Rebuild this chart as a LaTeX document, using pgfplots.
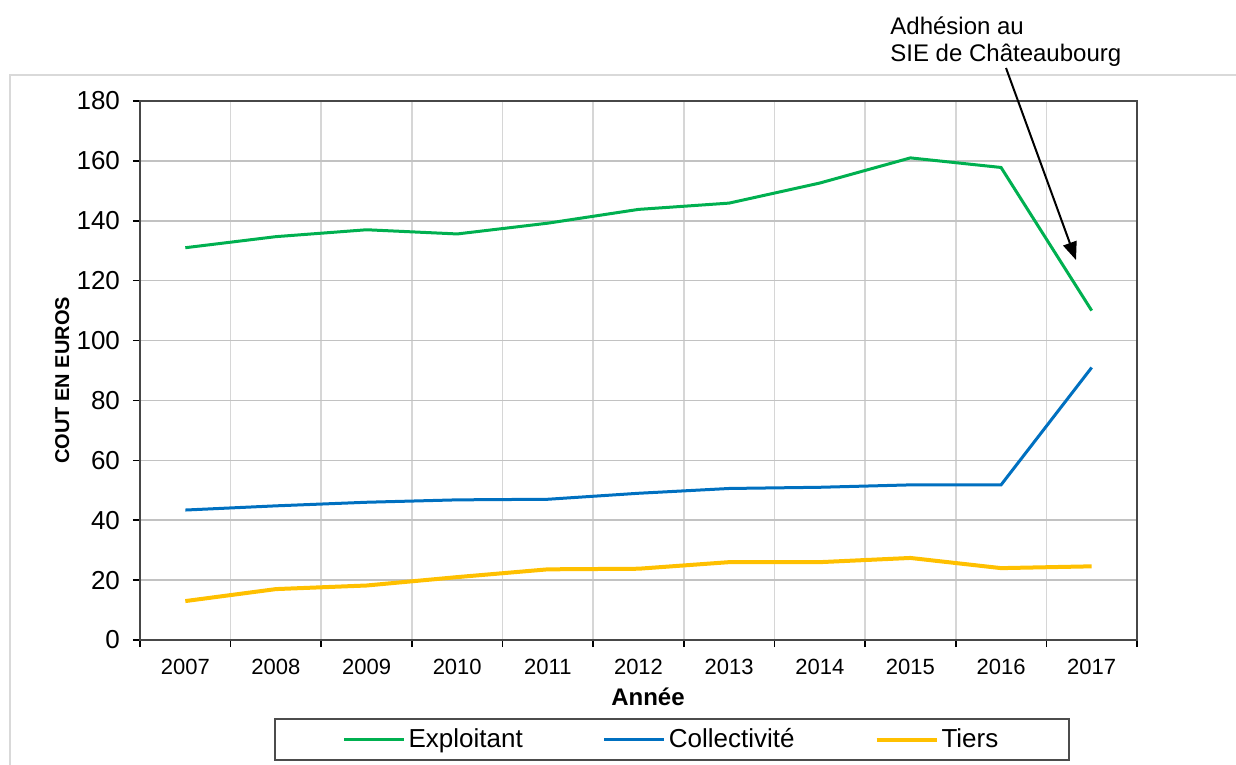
\documentclass[border=0pt]{standalone}
\usepackage{fontspec}
\setmainfont{Liberation Sans}
\usepackage{pgfplots}
\pgfplotsset{compat=1.18}
\usetikzlibrary{arrows.meta}
\definecolor{cgreen}{HTML}{00B050}
\definecolor{cblue}{HTML}{0070C0}
\definecolor{cyellow}{HTML}{FFC000}
\begin{document}
\begin{tikzpicture}
\path[use as bounding box] (0,0) rectangle (618pt,382.5pt);
\draw[black!15, line width=1pt] (5pt,0pt) -- (5pt,345pt) -- (618pt,345pt);
\begin{axis}[
  at={(70pt,62.5pt)}, anchor=south west,
  width=498.5pt, height=269.5pt, scale only axis,
  xmin=-0.5, xmax=10.5, ymin=0, ymax=180,
  xtick={0,...,10},
  xticklabels={2007,2008,2009,2010,2011,2012,2013,2014,2015,2016,2017},
  major x tick style={draw=none},
  minor xtick={-0.5,0.5,...,10.5},
  minor x tick style={black, line width=0.8pt},
  minor tick length=3.5pt,
  ytick={0,20,...,180},
  major tick length=3.5pt,
  tick align=outside,
  tick pos=left,
  y tick style={black, line width=0.8pt},
  ymajorgrids, xminorgrids,
  major y grid style={black!24, line width=0.8pt},
  minor x grid style={black!16, line width=0.8pt},
  axis line style={black!72, line width=1.3pt},
  /pgf/number format/assume math mode=true,
  /pgf/number format/1000 sep={},
  yticklabel style={font=\fontsize{13}{15}\selectfont, xshift=-3pt},
  xticklabel style={font=\fontsize{11}{13}\selectfont, yshift=-2.5pt},
  xlabel={Année},
  ylabel={COUT EN EUROS},
  every axis x label/.style={at={(axis description cs:0.5095,-0.1058)}, anchor=center, font=\bfseries\fontsize{12}{14}\selectfont},
  every axis y label/.style={at={(axis description cs:-0.078,0.482)}, anchor=center, rotate=90, font=\bfseries\fontsize{10}{12}\selectfont},
  legend columns=3,
  legend image code/.code={\draw[#1] (0pt,0pt) -- (30pt,0pt);},
  legend style={at={(axis description cs:0.5336,-0.1846)}, anchor=center,
    draw=black!70, line width=1pt, inner xsep=34pt, inner ysep=3pt,
    font=\fontsize{13}{15}\selectfont,
    nodes={inner sep=1.5pt},
    /tikz/every even column/.append style={column sep=38.5pt}},
]
\addplot[cgreen, line width=1.5pt] coordinates {(0,131) (1,134.7) (2,137) (3,135.6) (4,139.2) (5,143.8) (6,145.9) (7,152.6) (8,161) (9,157.8) (10,110)};
\addlegendentry{Exploitant}
\addplot[cblue, line width=1.5pt] coordinates {(0,43.4) (1,44.8) (2,46) (3,46.8) (4,47) (5,49) (6,50.6) (7,51) (8,51.8) (9,51.8) (10,91)};
\addlegendentry{Collectivité}
\addplot[cyellow, line width=2pt] coordinates {(0,13) (1,17) (2,18.2) (3,21) (4,23.6) (5,23.8) (6,26) (7,26) (8,27.4) (9,24) (10,24.6)};
\addlegendentry{Tiers}
\end{axis}
\node[anchor=base west, inner sep=0pt, font=\fontsize{12}{14}\selectfont] at (445pt,365pt) {Adhésion au};
\node[anchor=base west, inner sep=0pt, font=\fontsize{12}{14}\selectfont] at (445pt,351.5pt) {SIE de Châteaubourg};
\draw[line width=1pt, -{Triangle[length=9pt,width=7pt]}] (503pt,348.5pt) -- (538pt,252.5pt);
\end{tikzpicture}
\end{document}
